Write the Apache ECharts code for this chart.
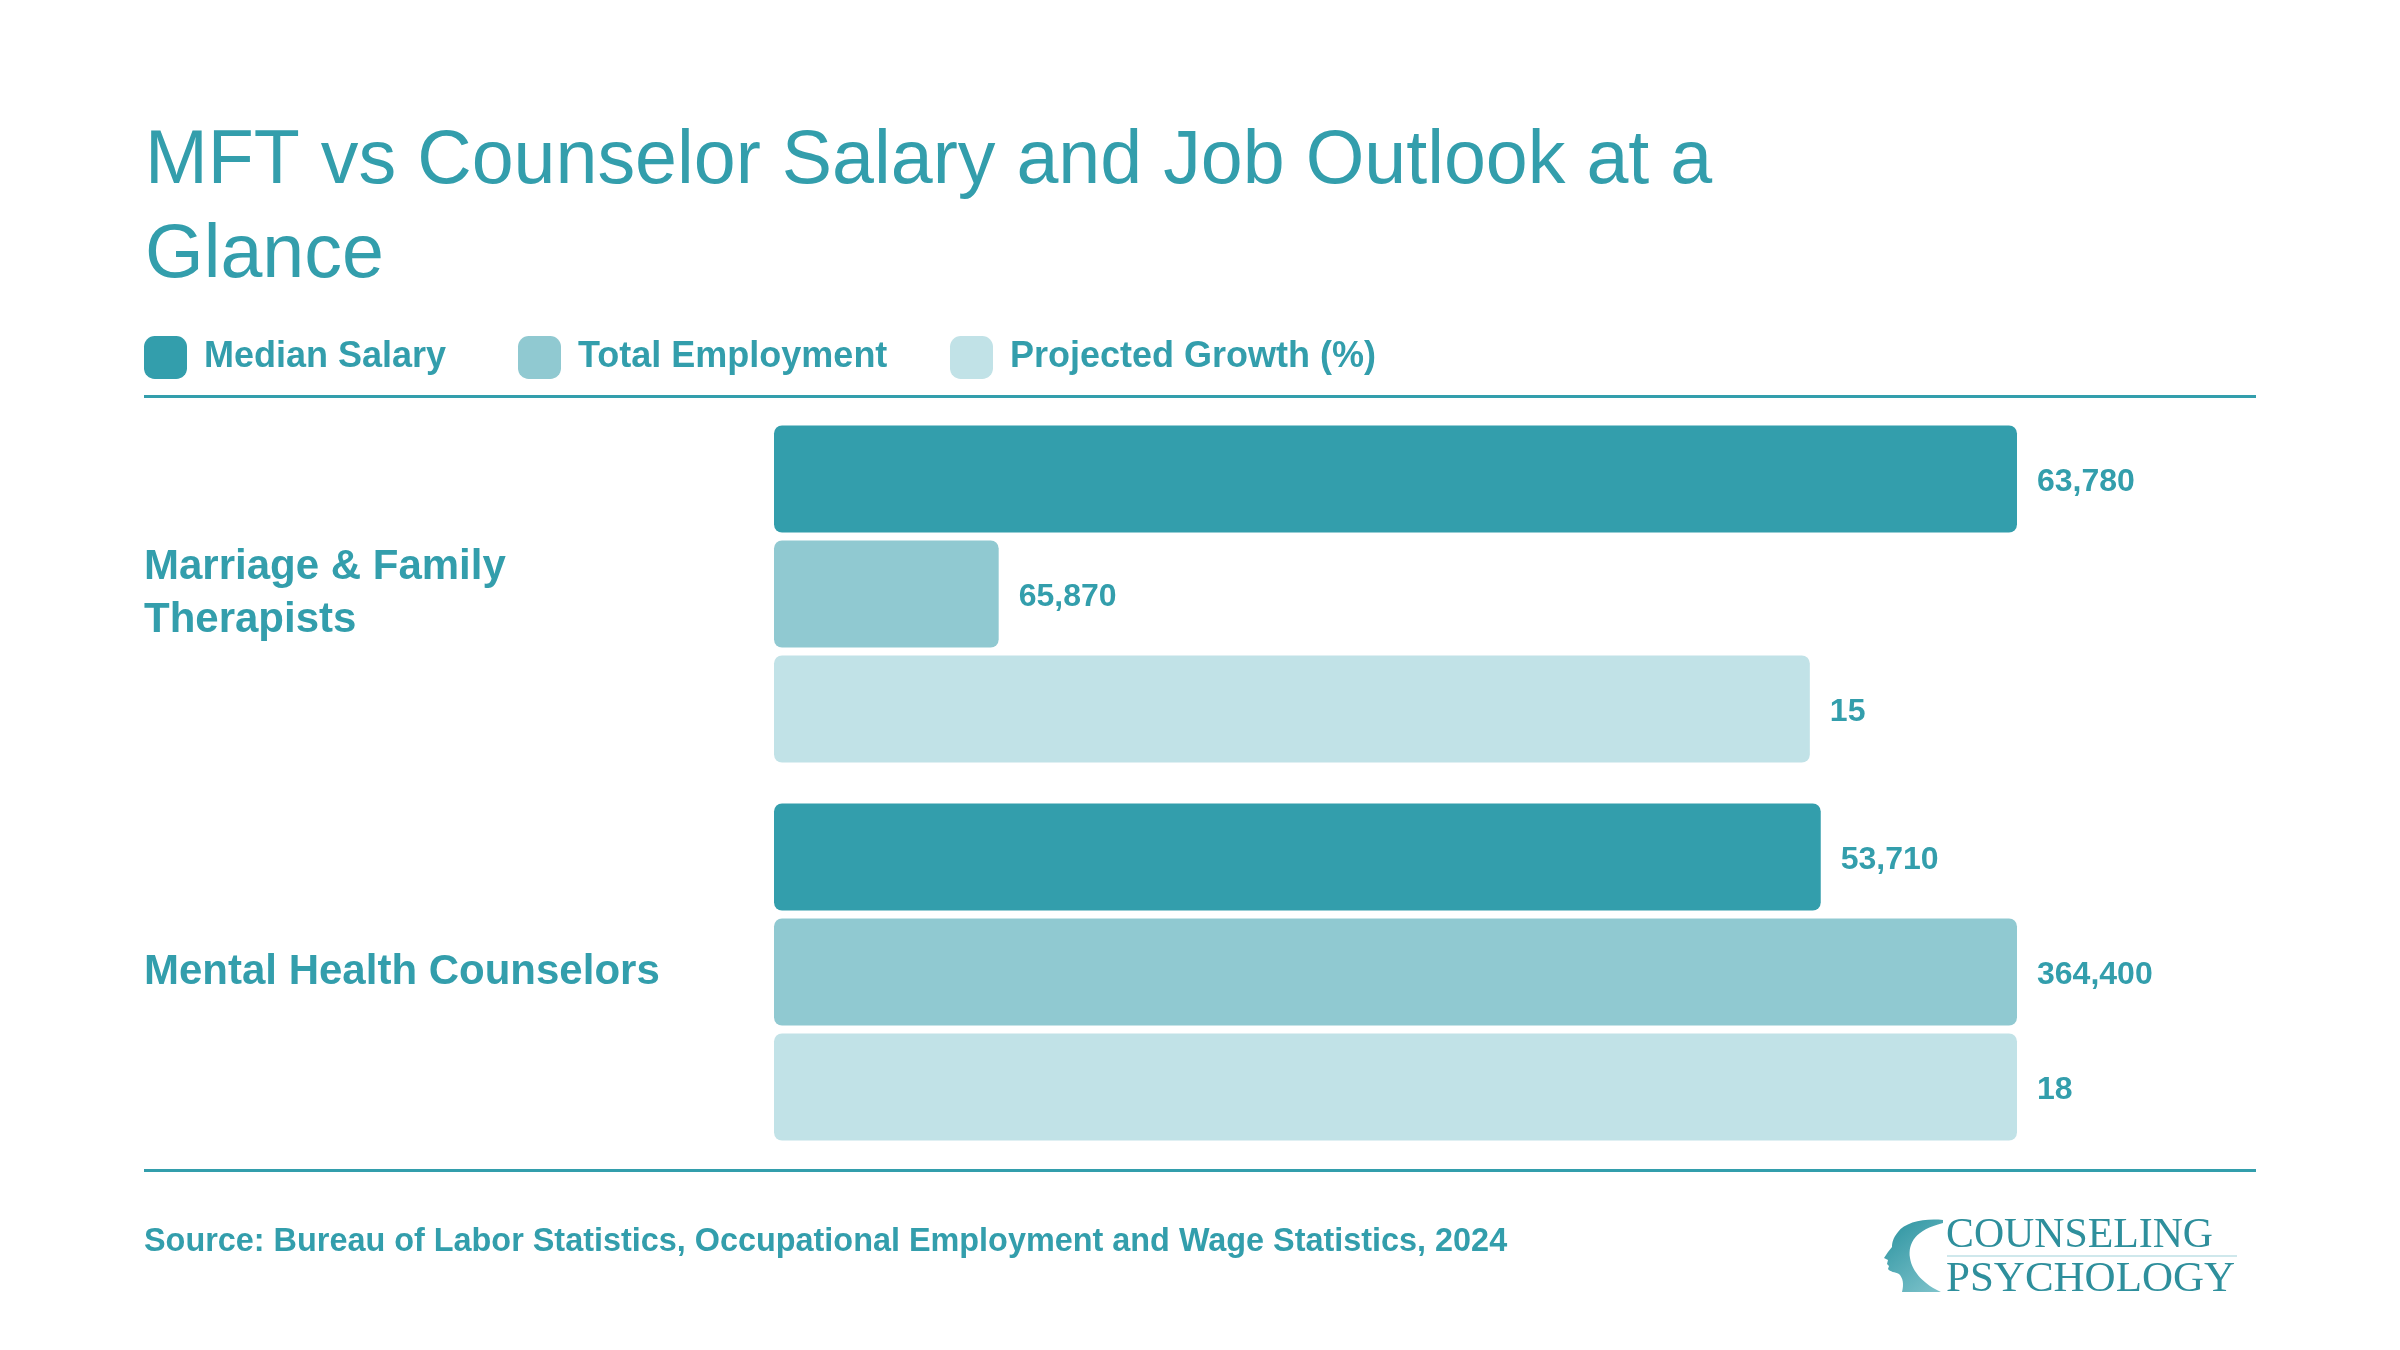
<!DOCTYPE html>
<html><head><meta charset="utf-8">
<script src="https://cdn.jsdelivr.net/npm/echarts@6/dist/echarts.min.js"></script>
<style>html,body{margin:0;padding:0;background:#fff}#c{width:2400px;height:1350px}</style>
</head><body><div id="c"></div>
<script>
const categories = ["Marriage & Family\nTherapists", "Mental Health Counselors"];
const seriesNames = ["Median Salary", "Total Employment", "Projected Growth (%)"];
const medianSalary = [63780, 53710];
const totalEmployment = [65870, 364400];
const projectedGrowth = [15, 18];
const titleText = "MFT vs Counselor Salary and Job Outlook at a\nGlance";
const sourceText = "Source: Bureau of Labor Statistics, Occupational Employment and Wage Statistics, 2024";

const teal = "#339EAC";
const colors = ["#339EAC", "#90C9D1", "#C1E2E7"];
const FONT = "'Liberation Sans', Arial, Helvetica, sans-serif";
const SERIF = "'Liberation Serif', 'DejaVu Serif', serif";
const allData = [medianSalary, totalEmployment, projectedGrowth];
const legendLefts = [139, 513, 945];

const HeadShape = echarts.graphic.extendPath(
  "M1943 1220 C1925 1218 1905 1222 1898 1232 C1893 1238 1892 1243 1892 1247 L1888 1252 L1884 1258 L1888 1260 L1887 1264 L1889 1266 L1888 1269 C1890 1272 1895 1272 1899 1274 C1903 1278 1904 1284 1902 1292 L1941 1292 C1925 1285 1912 1272 1910 1258 C1908 1243 1915 1230 1943 1223 Z", {});
echarts.graphic.registerShape('logoHead', HeadShape);

const chart = echarts.init(document.getElementById('c'), null, {renderer: 'canvas'});
chart.setOption({
  backgroundColor: '#fff',
  animation: false,
  textStyle: {fontFamily: FONT},
  title: {
    text: titleText, left: 140, top: 110,
    textStyle: {fontFamily: FONT, fontSize: 75.4, fontWeight: 'normal', color: teal, lineHeight: 94}
  },
  legend: seriesNames.map((name, i) => ({
    left: legendLefts[i], top: 331, itemWidth: 43, itemHeight: 43, icon: 'roundRect',
    data: [name], selectedMode: false,
    textStyle: {fontFamily: FONT, fontSize: 36, fontWeight: 'bold', color: teal, padding: [0, 0, 8, 12]}
  })),
  grid: {left: 774, right: 383, top: 405, height: 756, containLabel: false},
  xAxis: allData.map(d => ({type: 'value', min: 0, max: Math.max(...d), show: false})),
  yAxis: {
    type: 'category', data: categories, inverse: true,
    axisLine: {show: false}, axisTick: {show: false}, splitLine: {show: false},
    axisLabel: {align: 'left', margin: 630, fontFamily: FONT, fontSize: 42, fontWeight: 'bold', color: teal, lineHeight: 53, padding: [14, 0, 0, 0]}
  },
  series: seriesNames.map((name, i) => ({
    name, type: 'bar', xAxisIndex: i, data: allData[i],
    barWidth: 107, barGap: '7.5%',
    itemStyle: {color: colors[i], borderRadius: 8},
    label: {show: true, position: 'right', distance: 20, offset: [0, 3], fontFamily: FONT, fontSize: 32, fontWeight: 'bold', color: teal,
      formatter: p => p.value.toLocaleString('en-US')}
  })),
  graphic: [
    {type: 'rect', shape: {x: 144, y: 395, width: 2112, height: 3}, style: {fill: teal}, silent: true},
    {type: 'rect', shape: {x: 144, y: 1169, width: 2112, height: 3}, style: {fill: teal}, silent: true},
    {type: 'text', x: 144, y: 1242, style: {text: sourceText, font: "bold 32.4px " + FONT, fill: teal, textVerticalAlign: 'middle'}},
    {type: 'logoHead', shape: {},
      style: {fill: new echarts.graphic.LinearGradient(0, 0, 1, 1, [{offset: 0, color: '#2A929F'}, {offset: 1, color: '#80C4CC'}])}},
    {type: 'text', x: 1946, y: 1257, style: {text: "COUNSELING", font: "41.8px " + SERIF, fill: '#2E8F9C', textVerticalAlign: 'bottom'}},
    {type: 'rect', shape: {x: 1947, y: 1255, width: 290, height: 2}, style: {fill: '#CFE8EC'}},
    {type: 'text', x: 1946, y: 1301, style: {text: "PSYCHOLOGY", font: "43px " + SERIF, fill: '#2E8F9C', textVerticalAlign: 'bottom'}}
  ]
});
</script></body></html>
